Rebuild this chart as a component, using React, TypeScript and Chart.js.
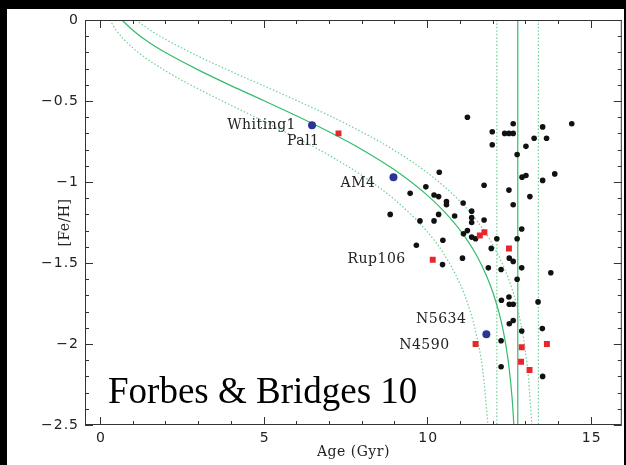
import React, { useEffect, useRef } from "react";
import { Chart, registerables } from "chart.js";

Chart.register(...registerables);

// Globular clusters: age (Gyr) and metallicity [Fe/H]
const clusterAge = [
  11.23, 12.63, 11.99, 12.37, 12.5, 12.63, 11.99, 13.02, 13.27, 13.53, 13.65, 14.42,
  12.75, 12.9, 13.02, 13.53, 13.9, 11.74, 12.5, 13.14, 12.63, 11.1, 11.36, 11.36,
  11.36, 11.74, 10.37, 9.96, 9.48, 10.21, 10.35, 10.59, 10.59, 8.87, 9.78, 10.21,
  10.35, 10.84, 11.23, 11.11, 10.48, 9.67, 11.08, 10.47, 11.36, 11.48, 12.13, 12.75,
  12.89, 11.96, 12.51, 12.63, 11.87, 12.26, 12.89, 13.78, 12.75, 12.27, 12.5, 12.51,
  12.63, 13.39, 12.51, 12.63, 13.52, 12.26, 12.89, 12.26, 13.53,
];
const clusterFeH = [
  -0.6, -0.64, -0.69, -0.7, -0.7, -0.7, -0.77, -0.78, -0.73, -0.66, -0.73, -0.64,
  -0.83, -0.97, -0.96, -0.99, -0.95, -1.02, -1.05, -1.09, -1.14, -1.13, -1.18, -1.22,
  -1.25, -1.235, -0.94, -1.03, -1.07, -1.08, -1.09, -1.12, -1.14, -1.2, -1.24, -1.24,
  -1.2, -1.21, -1.3, -1.32, -1.36, -1.39, -1.47, -1.51, -1.34, -1.35, -1.35, -1.35,
  -1.29, -1.41, -1.47, -1.49, -1.53, -1.54, -1.53, -1.56, -1.6, -1.73, -1.71, -1.755,
  -1.755, -1.74, -1.875, -1.855, -1.905, -1.98, -1.92, -2.14, -2.2,
];

// Accreted (red) clusters
const accretedAge = [7.29, 11.61, 11.75, 10.17, 12.5, 11.48, 12.89, 13.66, 12.87, 13.13];
const accretedFeH = [-0.7, -1.33, -1.31, -1.48, -1.41, -2.0, -2.02, -2.0, -2.11, -2.16];

// Highlighted (blue) clusters
const highlightAge = [6.48, 8.97, 11.81];
const highlightFeH = [-0.65, -0.97, -1.94];

// Age-metallicity relation and its bounds
const amrAge = [0.67, 1, 1.5, 2, 3, 4, 5, 6, 7, 8, 9, 10, 10.5, 11, 11.5, 11.8, 12, 12.2, 12.3, 12.4, 12.5, 12.6, 12.65];
const amrFeH = [0, -0.063, -0.139, -0.201, -0.308, -0.405, -0.497, -0.591, -0.69, -0.799, -0.925, -1.081, -1.178, -1.296, -1.449, -1.572, -1.676, -1.81, -1.895, -2.001, -2.14, -2.342, -2.5];
const amrLoAge = [0.3, 0.5, 1, 2, 3, 4, 5, 6, 7, 8, 9, 10, 10.5, 11, 11.3, 11.5, 11.7, 11.86];
const amrLoFeH = [0, -0.065, -0.172, -0.314, -0.425, -0.526, -0.625, -0.726, -0.835, -0.959, -1.108, -1.306, -1.441, -1.627, -1.788, -1.938, -2.164, -2.5];
const amrHiAge = [1.1, 1.5, 2, 3, 4, 5, 6, 7, 8, 9, 10, 11, 11.5, 12, 12.5, 12.8, 13, 13.1, 13.2];
const amrHiFeH = [0, -0.058, -0.119, -0.224, -0.317, -0.406, -0.496, -0.589, -0.691, -0.805, -0.942, -1.118, -1.234, -1.385, -1.604, -1.813, -2.039, -2.216, -2.5];

// Halo formation age with its spread
const haloAge = 12.77;
const haloAgeLo = 12.13;
const haloAgeHi = 13.4;

const xTicks = [0, 5, 10, 15];
const yTicks = [0, -0.5, -1, -1.5, -2, -2.5];

const tagNames = ["Whiting1", "Pal1", "AM4", "Rup106", "N5634", "N4590"];
const tagAge = [6.48, 7.29, 8.97, 10.17, 11.81, 11.48];
const tagFeH = [-0.65, -0.7, -0.97, -1.48, -1.94, -2.0];

const GREEN = "rgb(50,188,108)";
const GREEN_LIGHT = "rgb(110,208,148)";

const pts = (xs: number[], ys: number[]) => xs.map((x, i) => ({ x, y: ys[i] }));
const fmt = (v: number) => (v === 0 ? "0" : (v < 0 ? "\u2212" : "") + String(Math.abs(v)));

const frame = {
  id: "frame",
  beforeDraw(chart: any) {
    const ctx = chart.ctx;
    ctx.save();
    ctx.fillStyle = "#000";
    ctx.fillRect(0, 0, chart.width, chart.height);
    ctx.fillStyle = "#fff";
    ctx.fillRect(7, 9, 617, chart.height - 9);
    ctx.restore();
  },
  afterDatasetsDraw(chart: any) {
    const ctx = chart.ctx;
    const { left, right, top, bottom } = chart.chartArea;
    const xs = chart.scales.x;
    const ys = chart.scales.y;
    ctx.save();
    ctx.strokeStyle = "#333";
    ctx.lineWidth = 1;
    ctx.strokeRect(left + 0.5, top + 0.5, right - left - 1, bottom - top - 1);

    ctx.beginPath();
    for (let v = 0; v <= 15; v++) {
      const px = Math.round(xs.getPixelForValue(v)) + 0.5;
      const len = v % 5 === 0 ? 8 : 4;
      ctx.moveTo(px, bottom);
      ctx.lineTo(px, bottom - len);
      ctx.moveTo(px, top);
      ctx.lineTo(px, top + len);
    }
    for (let k = 0; k <= 25; k++) {
      const v = -k / 10;
      const py = Math.round(ys.getPixelForValue(v)) + 0.5;
      const len = k % 5 === 0 ? 8 : 4;
      ctx.moveTo(left, py);
      ctx.lineTo(left + len, py);
      ctx.moveTo(right, py);
      ctx.lineTo(right - len, py);
    }
    ctx.stroke();

    // tick labels
    ctx.fillStyle = "#222";
    ctx.font = "14px 'DejaVu Sans'";
    (ctx as any).letterSpacing = "1px";
    ctx.textAlign = "center";
    ctx.textBaseline = "top";
    xTicks.forEach((v) => ctx.fillText(fmt(v), xs.getPixelForValue(v) + 1, bottom + 6));
    ctx.textAlign = "right";
    ctx.textBaseline = "middle";
    yTicks.forEach((v) => ctx.fillText(fmt(v), left - 6, ys.getPixelForValue(v)));

    // axis titles
    ctx.font = "14px 'DejaVu Serif'";
    (ctx as any).letterSpacing = "0.5px";
    ctx.textAlign = "center";
    ctx.textBaseline = "middle";
    ctx.fillText("Age (Gyr)", (left + right) / 2, bottom + 27);
    ctx.save();
    ctx.translate(left - 20, (top + bottom) / 2);
    ctx.rotate(-Math.PI / 2);
    ctx.fillText("[Fe/H]", 0, 0);
    ctx.restore();

    // cluster names
    const offs = [
      [-16, 0],
      [-19, 8],
      [-18, 6],
      [-27, 0],
      [-20, -15],
      [-26, 1],
    ];
    ctx.textAlign = "right";
    tagNames.forEach((name, i) => {
      const px = xs.getPixelForValue(tagAge[i]) + offs[i][0];
      const py = ys.getPixelForValue(tagFeH[i]) + offs[i][1];
      ctx.fillText(name, px, py);
    });

    // caption
    (ctx as any).letterSpacing = "0px";
    ctx.fillStyle = "#000";
    ctx.font = "37px 'Liberation Serif'";
    ctx.textAlign = "left";
    ctx.textBaseline = "alphabetic";
    ctx.fillText("Forbes & Bridges 10", 108, 403);
    ctx.restore();
  },
};

export default function App() {
  const ref = useRef<HTMLCanvasElement | null>(null);
  useEffect(() => {
    if (!ref.current) return;
    const line = (xs: number[], ys: number[], color: string, dash: number[]) => ({
      data: pts(xs, ys),
      showLine: true,
      borderColor: color,
      borderWidth: 1.2,
      borderDash: dash,
      pointRadius: 0,
      cubicInterpolationMode: "monotone",
      fill: false,
    });
    const chart = new Chart(ref.current, {
      type: "scatter",
      data: {
        datasets: [
          {
            data: pts(highlightAge, highlightFeH),
            pointStyle: "circle",
            pointRadius: 4,
            backgroundColor: "#2a3696",
            borderWidth: 0,
          },
          {
            data: pts(accretedAge, accretedFeH),
            pointStyle: "rect",
            pointRadius: 4.2,
            backgroundColor: "#e8262d",
            borderWidth: 0,
          },
          {
            data: pts(clusterAge, clusterFeH),
            pointStyle: "circle",
            pointRadius: 2.8,
            backgroundColor: "#111",
            borderWidth: 0,
          },
          line(amrAge, amrFeH, GREEN, []),
          line(amrLoAge, amrLoFeH, GREEN_LIGHT, [1.5, 2]),
          line(amrHiAge, amrHiFeH, GREEN_LIGHT, [1.5, 2]),
          line([haloAge, haloAge], [0, -2.5], GREEN, []),
          line([haloAgeLo, haloAgeLo], [0, -2.5], GREEN_LIGHT, [1.5, 2]),
          line([haloAgeHi, haloAgeHi], [0, -2.5], GREEN_LIGHT, [1.5, 2]),
        ] as any,
      },
      options: {
        animation: false,
        responsive: false,
        devicePixelRatio: 1,
        layout: { padding: { left: 85, top: 20, right: 3, bottom: 40 } },
        plugins: { legend: { display: false }, tooltip: { enabled: false } },
        scales: {
          x: { type: "linear", min: -0.46, max: 15.95, display: false },
          y: { type: "linear", min: -2.5, max: 0, display: false },
        },
      },
      plugins: [frame],
    });
    return () => chart.destroy();
  }, []);
  return (
    <div style={{ position: "fixed", left: 0, top: 0, width: 626, height: 465, background: "#000" }}>
      <canvas ref={ref} width={626} height={465} style={{ display: "block" }} />
    </div>
  );
}
